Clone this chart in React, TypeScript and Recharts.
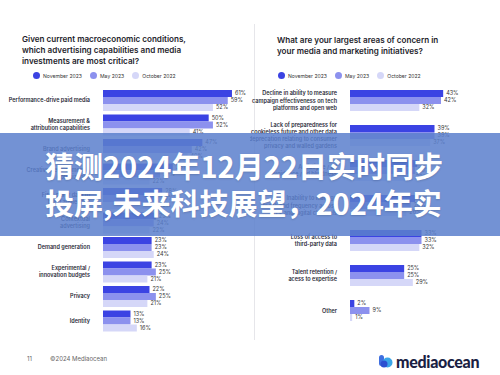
import React from 'react';
import { BarChart, Bar, XAxis, YAxis, LabelList } from 'recharts';

const seriesNames = ['November 2023', 'May 2023', 'October 2022'];
const seriesColors = ['#3b43e3', '#8c91ee', '#d5d7f8'];

// left panel
const capabilityLabels = [
  'Performance-drive paid media',
  'Measurement &\nattribution capabilities',
  'Brand advertising',
  'Creative development &\noptimization',
  'First-party data to\nbuild audiences',
  'Contextual\nadvertising',
  'Demand generation',
  'Experimental /\ninnovation budgets',
  'Privacy',
  'Identity',
];
const capNov = [61, 50, 47, 33, 28, 25, 23, 23, 22, 13];
const capMay = [59, 52, 42, 27, 26, 24, 23, 25, 25, 13];
const capOct = [52, 41, 40, 22, 25, 22, 24, 21, 21, 16];

// right panel
const concernLabels = [
  'Decline in ability to measure\ncampaign effectiveness on tech\nplatforms and open web',
  'Lack of preparedness for\ncookieless future and other data\ndeprecation relating to consumer\nprivacy and walled gardens',
  'Ad fatigue / ad\navoidance / ad blindness',
  'Inability to manage\nreach and frequency across\nCTV and digital channels',
  'Loss of access to\nthird-party data',
  'Talent retention /\nacess to expertise',
  'Other',
];
const conNov = [43, 39, 31, 30, 33, 25, 2];
const conMay = [42, 39, 30, 28, 33, 25, 9];
const conOct = [32, 37, 29, 26, 32, 29, 1];

const capData = capabilityLabels.map((name, i) => ({ name, nov: capNov[i], may: capMay[i], oct: capOct[i] }));
const conData = concernLabels.map((name, i) => ({ name, nov: conNov[i], may: conMay[i], oct: conOct[i] }));

const FONT = 'Inter, "Open Sans", sans-serif';

const CategoryTick = (props: any) => {
  const { x, y, payload } = props;
  const lines = String(payload.value).split('\n');
  const lh = 7.2;
  const start = y - ((lines.length - 1) * lh) / 2;
  return (
    <text x={x - 5} y={start} textAnchor="end" fontSize={5.5} fontWeight={600} fill="#2b2b38" fontFamily={FONT} dominantBaseline="central">
      {lines.map((l, i) => (
        <tspan key={i} x={x - 5} y={start + i * lh}>{l}</tspan>
      ))}
    </text>
  );
};

const Legend = ({ left, top }: { left: number; top: number }) => (
  <div style={{ position: 'absolute', left, top, display: 'flex', alignItems: 'center', fontFamily: FONT, fontSize: 5.1, color: '#333' }}>
    {seriesNames.map((s, i) => (
      <div key={s} style={{ display: 'flex', alignItems: 'center', marginRight: 8 }}>
        <span style={{ width: 7, height: 7, borderRadius: 4, background: seriesColors[i], display: 'inline-block', marginRight: 3 }} />
        {s}
      </div>
    ))}
  </div>
);

const Panel = ({ data, width, height, yWidth, top, bottom, right, max }: any) => (
  <BarChart layout="vertical" data={data} width={width} height={height} margin={{ top, bottom, left: 0, right }} barGap={0} barCategoryGap={2}>
    <XAxis type="number" hide domain={[0, max]} />
    <YAxis type="category" dataKey="name" width={yWidth} axisLine={false} tickLine={false} tick={<CategoryTick />} interval={0} />
    {['nov', 'may', 'oct'].map((k, i) => (
      <Bar key={k} dataKey={k} fill={seriesColors[i]} barSize={7} isAnimationActive={false}>
        <LabelList dataKey={k} position="right" offset={3} formatter={(v: any) => `${v}%`} style={{ fontSize: 5.5, fill: '#333', fontFamily: FONT }} />
      </Bar>
    ))}
  </BarChart>
);

export default function App() {
  return (
    <div style={{ position: 'absolute', left: 0, top: 0, width: 500, height: 375, background: '#fff', overflow: 'hidden' }}>
      <div style={{ position: 'absolute', left: 22, top: 34, width: 220, fontFamily: FONT, fontWeight: 600, fontSize: 8.1, lineHeight: '11px', color: '#1d1d2b' }}>
        Given current macroeconomic conditions,<br />which advertising capabilities and media<br />investments are most critical?
      </div>
      <div style={{ position: 'absolute', left: 277, top: 35, width: 220, fontFamily: FONT, fontWeight: 600, fontSize: 8.1, lineHeight: '11px', color: '#1d1d2b' }}>
        What are your largest areas of concern in<br />your media and marketing initiatives?
      </div>
      <Legend left={33} top={72} />
      <Legend left={278} top={72} />

      <div style={{ position: 'absolute', left: 254, top: 24, width: 1, height: 316, background: '#e6e6ea' }} />

      <div style={{ position: 'absolute', left: 0, top: 0 }}>
        <Panel data={capData} width={253} height={375} yWidth={103} top={88} bottom={42} right={2} max={70} />
      </div>
      <div style={{ position: 'absolute', left: 250, top: 0 }}>
        <Panel data={conData} width={250} height={375} yWidth={100} top={83} bottom={47} right={20} max={60} />
      </div>

      <div style={{ position: 'absolute', left: 27, top: 355, fontFamily: FONT, fontSize: 6, color: '#666' }}>11</div>
      <div style={{ position: 'absolute', left: 50, top: 355, fontFamily: FONT, fontSize: 6, color: '#666' }}>©2024 Mediaocean</div>

      <div style={{ position: 'absolute', left: 379, top: 352, display: 'flex', alignItems: 'center' }}>
        <svg width={15} height={13} style={{ marginRight: 2 }}>
          <rect x={0} y={0} width={5} height={11} rx={2.5} fill="#3f6fe0" />
          <circle cx={8.5} cy={7.5} r={5} fill="#3aa5e8" />
          <circle cx={5} cy={9} r={3.5} fill="#2c4fd0" />
        </svg>
        <span style={{ fontFamily: 'Lato, Inter, sans-serif', fontWeight: 900, fontSize: 16, color: '#1b1f44', letterSpacing: -0.3 }}>mediaocean</span>
      </div>

      <div style={{ position: 'absolute', left: 0, top: 133, width: 500, height: 103, background: 'rgba(92,128,205,0.86)' }} />
      <div style={{ position: 'absolute', left: 45, top: 147, width: 460, fontFamily: '"Noto Sans CJK SC", sans-serif', fontWeight: 700, fontSize: 29, lineHeight: '37px', color: '#fff', whiteSpace: 'nowrap', textShadow: '0 1px 2px rgba(0,0,0,0.15)' }}>
        猜测2024年12月22日实时同步<br />投屏,未来科技展望，2024年实
      </div>
    </div>
  );
}
